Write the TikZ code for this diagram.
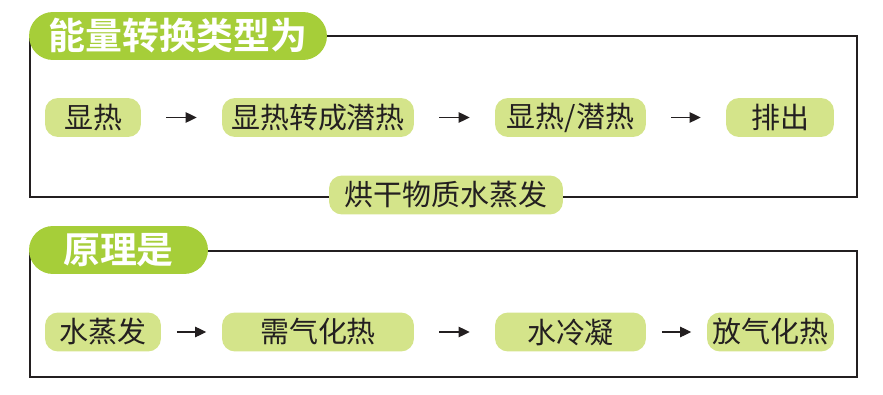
\documentclass[tikz,border=0pt]{standalone}
\usepackage{fontspec}
\newfontfamily\cjk{Noto Sans CJK SC}
\newfontfamily\cjkbold{Noto Sans CJK SC Bold}
\usetikzlibrary{arrows.meta,positioning}
\definecolor{leaf}{HTML}{A6CE39}
\definecolor{pale}{HTML}{D4E48A}
\definecolor{ink}{HTML}{231F20}
\tikzset{
  stepbox/.style={fill=pale,rounded corners=2.6mm,minimum height=0.78cm,inner sep=0pt,text=ink,font=\cjk\fontsize{16.5}{18}\selectfont},
  pill/.style={fill=leaf,rounded corners=4.8mm,minimum height=0.96cm,inner sep=0pt,text=white,font=\cjkbold\fontsize{21}{24}\selectfont},
  frame/.style={draw=ink,line width=1.4pt},
  flow/.style={-{Triangle[length=2.2mm,width=2.1mm]},ink,line width=0.6pt,shorten <=#1,shorten >=#1}
}
\begin{document}
\begin{tikzpicture}[x=0.02cm,y=-0.02cm]
\useasboundingbox (0,0) rectangle (883,395);
\draw[frame] (30,36) rectangle (857,197);
\draw[frame] (30,251) rectangle (857,377);
\node[pill,minimum width=5.96cm] (kind) at (178,36) {能量转换类型为};
\node[pill,minimum width=3.58cm] (rule) at (118.5,250) {原理是};

\node[stepbox,minimum width=1.92cm] (sens) at (93,117.5) {显热};
\node[stepbox,minimum width=3.84cm] (shift) at (318,117.5) {显热转成潜热};
\node[stepbox,minimum width=3.02cm] (mix) at (570.5,117.5) {显热/潜热};
\node[stepbox,minimum width=2.16cm] (vent) at (780,117.5) {排出};
\node[stepbox,minimum width=4.68cm] (dry) at (446,195) {烘干物质水蒸发};
\draw[flow=0.5cm] (sens) -- (shift);
\draw[flow=0.5cm] (shift) -- (mix);
\draw[flow=0.5cm] (mix) -- (vent);

\node[stepbox,minimum width=2.32cm] (evap) at (103,332) {水蒸发};
\node[stepbox,minimum width=3.84cm] (need) at (318,332) {需气化热};
\node[stepbox,minimum width=3.02cm] (cond) at (570.5,332) {水冷凝};
\node[stepbox,minimum width=2.54cm] (give) at (770.5,332) {放气化热};
\draw[flow=0.31cm] (evap) -- (need);
\draw[flow=0.5cm] (need) -- (cond);
\draw[flow=0.31cm] (cond) -- (give);
\end{tikzpicture}
\end{document}
